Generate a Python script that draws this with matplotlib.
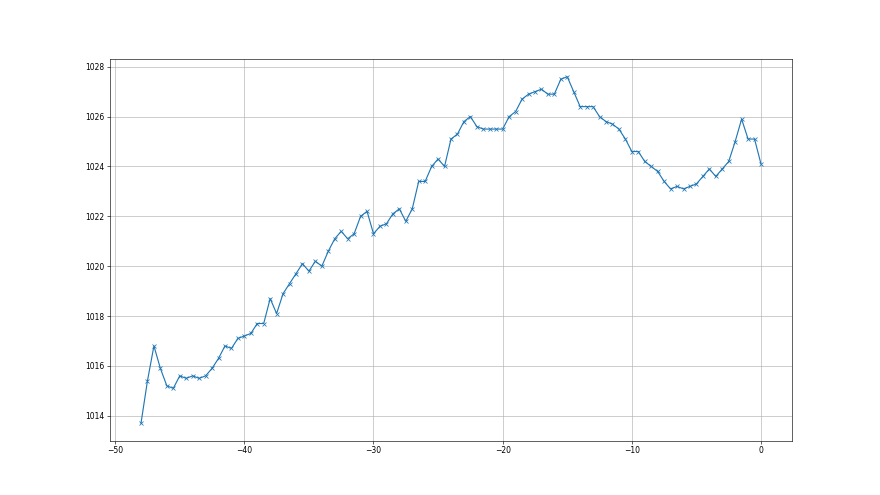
import numpy as np
import matplotlib
matplotlib.use("Agg")
import matplotlib.pyplot as plt

# 时间偏移（步长0.5）
x_start = -48
x_step = 0.5

# 读数
pressure = [
    1013.7, 1015.4, 1016.8, 1015.9, 1015.2, 1015.1, 1015.6, 1015.5, 1015.6, 1015.5,
    1015.6, 1015.9, 1016.3, 1016.8, 1016.7, 1017.1, 1017.2, 1017.3, 1017.7, 1017.7,
    1018.7, 1018.1, 1018.9, 1019.3, 1019.7, 1020.1, 1019.8, 1020.2, 1020.0, 1020.6,
    1021.1, 1021.4, 1021.1, 1021.3, 1022.0, 1022.2, 1021.3, 1021.6, 1021.7, 1022.1,
    1022.3, 1021.8, 1022.3, 1023.4, 1023.4, 1024.0, 1024.3, 1024.0, 1025.1, 1025.3,
    1025.8, 1026.0, 1025.6, 1025.5, 1025.5, 1025.5, 1025.5, 1026.0, 1026.2, 1026.7,
    1026.9, 1027.0, 1027.1, 1026.9, 1026.9, 1027.5, 1027.6, 1027.0, 1026.4, 1026.4,
    1026.4, 1026.0, 1025.8, 1025.7, 1025.5, 1025.1, 1024.6, 1024.6, 1024.2, 1024.0,
    1023.8, 1023.4, 1023.1, 1023.2, 1023.1, 1023.2, 1023.3, 1023.6, 1023.9, 1023.6,
    1023.9, 1024.2, 1025.0, 1025.9, 1025.1, 1025.1, 1024.1,
]

hours = x_start + x_step * np.arange(len(pressure))

fig = plt.figure(figsize=(16, 9), dpi=55)
ax = fig.add_subplot(111)
ax.plot(hours, pressure, marker='x', color='C0')
ax.grid(True)
fig.savefig("out.png", dpi=55)
